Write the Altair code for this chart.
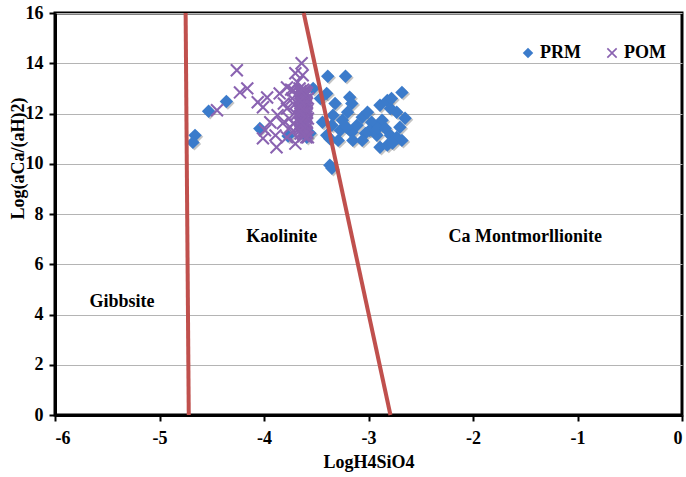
import altair as alt
import pandas as pd

# ---- data ----
prm_x = [-4.66, -4.68, -4.53, -4.36, -4.04, -3.77,
         -3.39, -3.22, -3.53, -3.40, -3.32, -3.18, -3.16, -3.20, -3.34, -3.25,
         -3.35, -3.27, -3.37, -3.40, -3.29, -3.16, -3.11, -3.06, -3.01, -2.97,
         -2.99, -2.92, -2.89, -2.82, -2.79, -2.78, -2.68, -2.73, -2.65, -2.70,
         -2.87, -2.91, -2.84, -2.79, -2.73, -2.68, -2.82, -2.89, -2.77, -3.03,
         -3.06, -3.15, -3.21, -3.37, -3.35, -3.46, -3.56, -3.44, -3.59]
prm_y = [11.13, 10.85, 12.09, 12.48, 11.40, 11.10,
         13.48, 13.48, 13.00, 12.80, 12.40, 12.65, 12.40, 12.05, 11.93, 11.73,
         11.53, 11.33, 11.00, 11.13, 10.93, 11.25, 11.53, 11.85, 12.05, 11.65,
         11.33, 11.13, 12.33, 12.52, 12.20, 12.60, 12.84, 12.05, 11.81, 11.45,
         11.73, 11.41, 11.41, 11.13, 11.05, 10.93, 10.74, 10.66, 10.82, 11.21,
         10.93, 10.93, 11.45, 9.94, 9.82, 12.60, 11.21, 11.65, 11.05]

pom_x = [-4.45, -4.26, -4.16, -4.23, -4.06, -3.97, -4.01, -3.85, -3.94, -3.99,
         -4.01, -3.89, -3.88, -3.87, -3.78, -3.73, -3.72, -3.68, -3.78, -3.82,
         -3.75, -3.78, -3.64, -3.63, -3.70, -3.58, -3.81, -3.76, -3.73, -3.70,
         -3.71, -3.74, -3.69, -3.72,
         -3.65, -3.66, -3.65, -3.64, -3.65, -3.66, -3.65, -3.64, -3.65, -3.66,
         -3.62, -3.61, -3.62, -3.63, -3.62, -3.61, -3.62, -3.63, -3.62, -3.61,
         -3.59, -3.60, -3.59, -3.58, -3.59, -3.60, -3.59, -3.58, -3.59,
         -3.635, -3.64, -3.635, -3.63, -3.635, -3.64,
         -3.605, -3.60, -3.605, -3.61, -3.605, -3.60,
         -3.625, -3.62, -3.625, -3.63, -3.625, -3.62, -3.625, -3.63,
         -3.595, -3.60, -3.595, -3.59, -3.595, -3.60, -3.595,
         -3.655, -3.65, -3.655, -3.66, -3.655, -3.65]
pom_y = [12.13, 13.72, 13.00, 12.84, 12.45, 12.64, 12.25, 12.80, 11.65, 11.33,
         11.01, 11.13, 10.66, 11.93, 12.20, 12.60, 12.92, 13.24, 13.04, 11.61,
         11.45, 11.05, 14.00, 13.52, 13.60, 11.05, 12.40, 11.80, 11.25, 10.80,
         12.35, 12.95, 11.95, 11.60,
         11.20, 11.42, 11.60, 11.82, 12.00, 12.22, 12.40, 12.62, 12.80, 13.00,
         11.10, 11.30, 11.52, 11.70, 11.90, 12.10, 12.32, 12.50, 12.70, 12.90,
         11.22, 11.40, 11.62, 11.80, 12.02, 12.20, 12.40, 12.60, 12.82,
         11.25, 11.55, 11.85, 12.15, 12.45, 12.75,
         11.35, 11.65, 11.95, 12.25, 12.55, 12.85,
         11.18, 11.45, 11.75, 12.05, 12.35, 12.65, 12.95, 11.60,
         11.28, 11.50, 11.88, 12.12, 12.48, 12.72, 11.05,
         11.32, 11.68, 12.08, 12.30, 12.52, 12.90]

line_id = ["a", "a", "b", "b"]
line_x = [-4.75, -4.72, -3.62, -2.79]
line_y = [16, 0, 16, 0]

region_names = ["Gibbsite", "Kaolinite", "Ca Montmorllionite"]
region_x = [-5.36, -3.83, -1.50]
region_y = [4.49, 7.08, 7.08]

x_ticks = [-6, -5, -4, -3, -2, -1, 0]
y_ticks = [0, 2, 4, 6, 8, 10, 12, 14, 16]

FONT = "Liberation Serif"
X_PATH = ("M-1,-0.78L-0.78,-1L0,-0.22L0.78,-1L1,-0.78L0.22,0L1,0.78"
          "L0.78,1L0,0.22L-0.78,1L-1,0.78L-0.22,0Z")

pts = pd.DataFrame({
    "x": prm_x + pom_x,
    "y": prm_y + pom_y,
    "series": ["PRM"] * len(prm_x) + ["POM"] * len(pom_x),
})
prm = pd.DataFrame({"x": prm_x, "y": prm_y})
lines = pd.DataFrame({"id": line_id, "x": line_x, "y": line_y})
regions = pd.DataFrame({"name": region_names, "x": region_x, "y": region_y})

xs = alt.Scale(domain=[-6, 0], nice=False, zero=False)
ys = alt.Scale(domain=[0, 16], nice=False)

xaxis = alt.Axis(values=x_ticks, title="LogH4SiO4", grid=False,
                 labelExpr="datum.value + ''",
                 titleY=47, titleBaseline="middle")
yaxis = alt.Axis(values=y_ticks, title="Log(aCa/(aH)2)", grid=True,
                 labelExpr="datum.value + ''",
                 titleX=-37, titleY=145, titleAngle=-90, titleAlign="center",
                 titleBaseline="middle")

shadow = alt.Chart(prm).mark_point(
    shape="diamond", filled=True, color="#555555", opacity=0.35, size=180,
    xOffset=1.5, yOffset=1.5
).encode(
    x=alt.X("x:Q", scale=xs, axis=xaxis),
    y=alt.Y("y:Q", scale=ys, axis=yaxis),
)

points = alt.Chart(pts).mark_point(filled=True, opacity=1, size=180).encode(
    x=alt.X("x:Q", scale=xs),
    y=alt.Y("y:Q", scale=ys),
    color=alt.Color("series:N",
                    scale=alt.Scale(domain=["PRM", "POM"], range=["#3b7bcb", "#8a63b1"]),
                    legend=alt.Legend(orient="none", legendX=464, legendY=31,
                                      direction="horizontal", title=None,
                                      labelFont=FONT, labelFontSize=18,
                                      labelFontWeight="bold", labelColor="black",
                                      symbolSize=110, labelOffset=3,
                                      columnPadding=22, padding=0)),
    shape=alt.Shape("series:N",
                    scale=alt.Scale(domain=["PRM", "POM"], range=["diamond", X_PATH])),
    order=alt.Order("series:N", sort="descending"),
)

rlines = alt.Chart(lines).mark_line(color="#c0504d", strokeWidth=4).encode(
    x=alt.X("x:Q", scale=xs),
    y=alt.Y("y:Q", scale=ys),
    detail="id:N",
)

labels = alt.Chart(regions).mark_text(
    font=FONT, fontSize=18, fontWeight="bold", color="black"
).encode(
    x=alt.X("x:Q", scale=xs),
    y=alt.Y("y:Q", scale=ys),
    text="name:N",
)

chart = alt.layer(shadow, points, rlines, labels).properties(
    width=627, height=402,
    autosize=alt.AutoSizeParams(type="none"),
    padding={"left": 55, "top": 13, "right": 4, "bottom": 62},
    background="white",
).configure_view(
    stroke="black", strokeWidth=3
).configure_axis(
    labelFont=FONT, labelFontSize=18, labelFontWeight="bold", labelColor="black",
    titleFont=FONT, titleFontSize=18, titleFontWeight="bold", titleColor="black",
    domainColor="black", domainWidth=3, tickColor="black", tickWidth=2, tickSize=6,
    gridColor="#b4b4b4", gridWidth=1.2,
).configure_axisX(labelPadding=8).configure_axisY(labelPadding=6)

chart.save("out.html", embed_options={"renderer": "svg", "actions": False})
